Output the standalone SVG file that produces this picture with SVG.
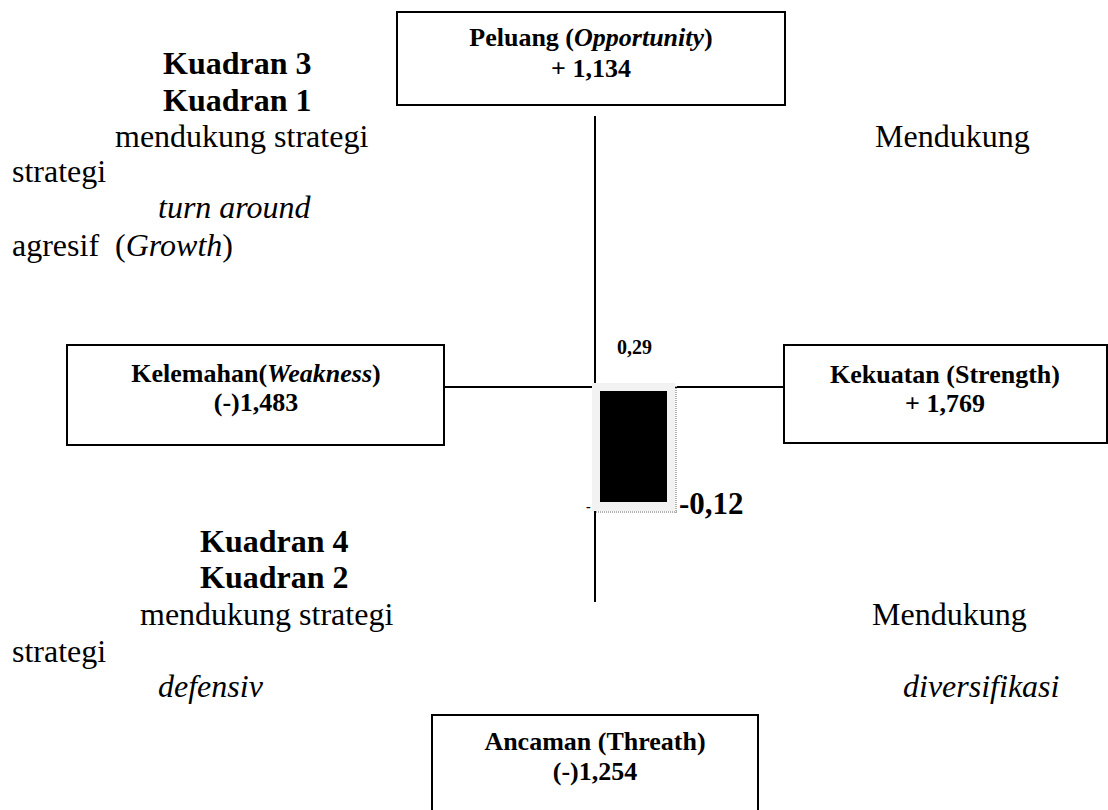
<svg xmlns="http://www.w3.org/2000/svg" width="1108" height="810" viewBox="0 0 1108 810">
<style>
.t{font-family:"Liberation Serif","Times New Roman",serif;fill:#000}
.b{font-weight:bold}
.i{font-style:italic}
.q{font-size:32px}
.bx{font-size:26px;font-weight:bold;text-anchor:middle}
.box{fill:#fff;stroke:#000;stroke-width:2}
.ln{stroke:#000;stroke-width:2;fill:none}
</style>
<rect width="1108" height="810" fill="#fff"/>
<g id="connectors">
<line class="ln" x1="595" y1="116" x2="595" y2="387"/>
<line class="ln" x1="444" y1="387" x2="784" y2="387"/>
<line class="ln" x1="595" y1="510" x2="595" y2="602"/>
</g>
<g id="node-peluang">
<rect class="box" x="397" y="12" width="388" height="93"/>
<text class="t bx" x="591" y="46">Peluang (<tspan class="i">Opportunity</tspan>)</text>
<text class="t bx" x="591" y="77">+ 1,134</text>
</g>
<g id="node-kelemahan">
<rect class="box" x="67" y="345" width="377" height="100"/>
<text class="t bx" x="256" y="382">Kelemahan(<tspan class="i">Weakness</tspan>)</text>
<text class="t bx" x="256" y="411">(-)1,483</text>
</g>
<g id="node-kekuatan">
<rect class="box" x="784" y="345" width="323" height="98"/>
<text class="t bx" x="945" y="383">Kekuatan (Strength)</text>
<text class="t bx" x="945" y="412">+ 1,769</text>
</g>
<g id="node-ancaman">
<rect class="box" x="432" y="715" width="326" height="110"/>
<text class="t bx" x="595" y="750">Ancaman (Threath)</text>
<text class="t bx" x="595" y="780">(-)1,254</text>
</g>
<g id="marker-point">
<text class="t b" x="586" y="511" font-size="14">-</text>
<rect x="592" y="383" width="83" height="128" fill="#f2f2f2"/>
<line x1="676" y1="386" x2="676" y2="513" stroke="#b0b0b0" stroke-width="2" stroke-dasharray="1 1"/>
<line x1="596" y1="512" x2="677" y2="512" stroke="#b0b0b0" stroke-width="2" stroke-dasharray="1 1"/>
<rect x="600" y="391" width="67" height="111" fill="#000"/>
<text class="t b" x="617" y="354" font-size="20">0,29</text>
<text class="t b" x="679" y="514" font-size="31">-0,12</text>
</g>
<g id="quadrant-top">
<text class="t b q" x="163" y="74">Kuadran 3</text>
<text class="t b q" x="163" y="111">Kuadran 1</text>
<text class="t q" x="115" y="147">mendukung strategi</text>
<text class="t q" x="875" y="147">Mendukung</text>
<text class="t q" x="12" y="182">strategi</text>
<text class="t q i" x="158" y="218">turn around</text>
<text class="t q" x="12" y="256">agresif&#160; (<tspan class="i">Growth</tspan>)</text>
</g>
<g id="quadrant-bottom">
<text class="t b q" x="200" y="552">Kuadran 4</text>
<text class="t b q" x="200" y="588">Kuadran 2</text>
<text class="t q" x="140" y="625">mendukung strategi</text>
<text class="t q" x="872" y="625">Mendukung</text>
<text class="t q" x="12" y="662">strategi</text>
<text class="t q i" x="158" y="697">defensiv</text>
<text class="t q i" x="903" y="697">diversifikasi</text>
</g>
</svg>
